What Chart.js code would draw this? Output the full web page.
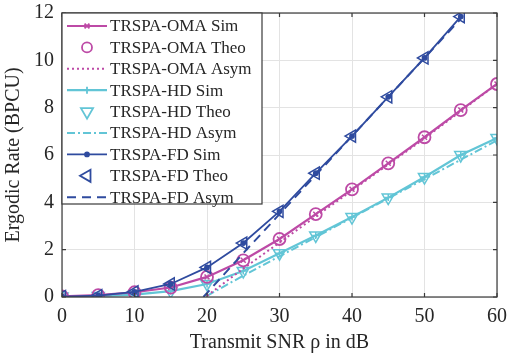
<!DOCTYPE html>
<html>
<head>
<meta charset="utf-8">
<script src="https://cdn.jsdelivr.net/npm/chart.js@4"></script>
<style>
  html, body { margin: 0; padding: 0; background: #fff; }
  #wrap { width: 507px; height: 357px; position: relative; }
</style>
</head>
<body>
<div id="wrap"><canvas id="myChart" width="507" height="357"></canvas></div>
<script>
// x values (transmit SNR in dB)
const snr = [0, 5, 10, 15, 20, 25, 30, 35, 40, 45, 50, 55, 60];
const snrFd = [0, 5, 10, 15, 20, 25, 30, 35, 40, 45, 50, 55];
const snrAsym = [20, 25, 30, 35, 40, 45, 50, 55, 60];
const snrFdAsym = [19.5, 25, 30, 35, 40, 45, 50, 55];

// series values
const omaSim = [0.03, 0.08, 0.2, 0.4, 0.85, 1.55, 2.45, 3.5, 4.55, 5.65, 6.75, 7.9, 9.0];
const omaTheo = [0.03, 0.08, 0.2, 0.4, 0.85, 1.55, 2.45, 3.5, 4.55, 5.65, 6.75, 7.9, 9.0];
const omaAsym = [0.05, 1.2, 2.3, 3.4, 4.5, 5.6, 6.7, 7.85, 9.0];
const hdSim = [0.02, 0.04, 0.1, 0.25, 0.55, 1.1, 1.85, 2.6, 3.38, 4.2, 5.07, 6.0, 6.72];
const hdTheo = [0.02, 0.04, 0.1, 0.25, 0.55, 1.1, 1.85, 2.6, 3.38, 4.2, 5.07, 6.0, 6.72];
const hdAsym = [0.05, 0.9, 1.72, 2.53, 3.35, 4.17, 4.98, 5.8, 6.62];
const fdSim = [0.02, 0.06, 0.22, 0.55, 1.25, 2.28, 3.62, 5.23, 6.8, 8.46, 10.1, 11.85];
const fdTheo = [0.02, 0.06, 0.22, 0.55, 1.25, 2.28, 3.62, 5.23, 6.8, 8.46, 10.1, 11.85];
const fdAsym = [0.0, 1.85, 3.5, 5.15, 6.8, 8.45, 10.1, 11.75];

const xTicks = [0, 10, 20, 30, 40, 50, 60];
const yTicks = [0, 2, 4, 6, 8, 10, 12];

const MAG = '#bd4aa6';
const CYA = '#62c5d6';
const BLU = '#2f4b9f';
const FONT = '"Liberation Serif", "DejaVu Serif", serif';

function pts(xs, ys) {
  return ys.map((y, i) => ({ x: xs[i], y: y }));
}

const datasets = [
  { label: 'TRSPA-FD Theo', data: pts(snrFd, fdTheo), showLine: false, borderColor: BLU,
    pointStyle: 'triangle', rotation: -90, pointRadius: 7, pointBorderWidth: 1.5, pointBackgroundColor: 'rgba(0,0,0,0)' },
  { label: 'TRSPA-FD Sim', data: pts(snrFd, fdSim), borderColor: BLU, backgroundColor: BLU, borderWidth: 1.8,
    pointStyle: 'circle', pointRadius: 2 },
  { label: 'TRSPA-FD Asym', data: pts(snrFdAsym, fdAsym), borderColor: BLU, borderWidth: 2, borderDash: [9, 6], pointRadius: 0 },
  { label: 'TRSPA-OMA Theo', data: pts(snr, omaTheo), showLine: false, borderColor: MAG,
    pointStyle: 'circle', pointRadius: 6, pointBorderWidth: 1.8, pointBackgroundColor: 'rgba(0,0,0,0)' },
  { label: 'TRSPA-OMA Sim', data: pts(snr, omaSim), borderColor: MAG, borderWidth: 2.2,
    pointStyle: 'crossRot', pointRadius: 3.5, pointBorderWidth: 1.5 },
  { label: 'TRSPA-OMA Asym', data: pts(snrAsym, omaAsym), borderColor: MAG, borderWidth: 2, borderDash: [2, 3], pointRadius: 0 },
  { label: 'TRSPA-HD Theo', data: pts(snr, hdTheo), showLine: false, borderColor: CYA,
    pointStyle: 'triangle', rotation: 180, pointRadius: 7, pointBorderWidth: 1.5, pointBackgroundColor: 'rgba(0,0,0,0)' },
  { label: 'TRSPA-HD Sim', data: pts(snr, hdSim), borderColor: CYA, borderWidth: 2.2,
    pointStyle: 'cross', pointRadius: 3.5, pointBorderWidth: 1.5 },
  { label: 'TRSPA-HD Asym', data: pts(snrAsym, hdAsym), borderColor: CYA, borderWidth: 2, borderDash: [8, 3, 2, 3], pointRadius: 0 }
];

// legend rows in the picture's order
const legendRows = [
  { text: 'TRSPA-OMA Sim', color: MAG, line: [], lw: 2.2, style: 'crossRot', r: 3.5 },
  { text: 'TRSPA-OMA Theo', color: MAG, line: null, style: 'circle', r: 5 },
  { text: 'TRSPA-OMA Asym', color: MAG, line: [2, 3], lw: 2 },
  { text: 'TRSPA-HD Sim', color: CYA, line: [], lw: 2.2, style: 'cross', r: 3.5 },
  { text: 'TRSPA-HD Theo', color: CYA, line: null, style: 'triangle', rot: 180, r: 7 },
  { text: 'TRSPA-HD Asym', color: CYA, line: [8, 3, 2, 3], lw: 2 },
  { text: 'TRSPA-FD Sim', color: BLU, line: [], lw: 1.8, style: 'circle', r: 2, fill: true },
  { text: 'TRSPA-FD Theo', color: BLU, line: null, style: 'triangle', rot: -90, r: 7 },
  { text: 'TRSPA-FD Asym', color: BLU, line: [9, 6], lw: 2 }
];

const framePlugin = {
  id: 'frame',
  afterDatasetsDraw(chart) {
    const { ctx, chartArea: a, scales } = chart;
    ctx.save();
    ctx.strokeStyle = '#3a3a3a';
    ctx.lineWidth = 1.2;
    ctx.strokeRect(a.left, a.top, a.right - a.left, a.bottom - a.top);
    // inward ticks
    xTicks.forEach(v => {
      const x = scales.x.getPixelForValue(v);
      ctx.beginPath();
      ctx.moveTo(x, a.bottom); ctx.lineTo(x, a.bottom - 4);
      ctx.moveTo(x, a.top); ctx.lineTo(x, a.top + 4);
      ctx.stroke();
    });
    yTicks.forEach(v => {
      const y = scales.y.getPixelForValue(v);
      ctx.beginPath();
      ctx.moveTo(a.left, y); ctx.lineTo(a.left + 4, y);
      ctx.moveTo(a.right, y); ctx.lineTo(a.right - 4, y);
      ctx.stroke();
    });

    // legend box
    const bx = a.left, by = a.top, bw = 200, bh = 191;
    ctx.fillStyle = '#fff';
    ctx.fillRect(bx, by, bw, bh);
    ctx.strokeStyle = '#3a3a3a';
    ctx.lineWidth = 1.2;
    ctx.strokeRect(bx, by, bw, bh);
    ctx.font = '17px ' + FONT;
    ctx.textBaseline = 'middle';
    legendRows.forEach((r, i) => {
      const y = by + 13 + i * 21.4;
      const x0 = bx + 5, x1 = bx + 45, xm = (x0 + x1) / 2;
      if (r.line) {
        ctx.save();
        ctx.strokeStyle = r.color;
        ctx.lineWidth = r.lw;
        ctx.setLineDash(r.line);
        ctx.beginPath();
        ctx.moveTo(x0, y); ctx.lineTo(x1, y);
        ctx.stroke();
        ctx.restore();
      }
      if (r.style) {
        ctx.save();
        ctx.strokeStyle = r.color;
        ctx.fillStyle = r.fill ? r.color : 'rgba(0,0,0,0)';
        ctx.lineWidth = 1.8;
        Chart.helpers.drawPoint(ctx, { pointStyle: r.style, rotation: r.rot || 0, radius: r.r, borderWidth: 1.8 }, xm, y);
        ctx.restore();
      }
      ctx.fillStyle = '#262626';
      ctx.textAlign = 'left';
      ctx.fillText(r.text, bx + 48, y + 1);
    });
    ctx.restore();
  }
};

const ctx = document.getElementById('myChart').getContext('2d');
const chart = new Chart(ctx, {
  type: 'line',
  data: { datasets: datasets },
  options: {
    responsive: false,
    animation: false,
    layout: { padding: { top: 13, right: 10, left: 0, bottom: 0 } },
    plugins: { legend: { display: false }, tooltip: { enabled: false } },
    elements: { line: { tension: 0 } },
    scales: {
      x: {
        type: 'linear', min: 0, max: 60,
        afterBuildTicks: (s) => { s.ticks = xTicks.map(v => ({ value: v })); },
        afterFit: (s) => { s.height = 60; s.paddingLeft = 0; s.paddingRight = 0; },
        grid: { color: '#e3e3e3', lineWidth: 1, drawTicks: false },
        border: { display: false },
        ticks: { color: '#262626', font: { family: FONT, size: 20 }, padding: 8 },
        title: { display: true, text: 'Transmit SNR ρ in dB', color: '#262626', font: { family: FONT, size: 20 }, padding: { top: 0, bottom: 2 } }
      },
      y: {
        min: 0, max: 12,
        afterBuildTicks: (s) => { s.ticks = yTicks.map(v => ({ value: v })); },
        afterFit: (s) => { s.width = 62; s.paddingTop = 0; s.paddingBottom = 0; },
        grid: { color: '#e3e3e3', lineWidth: 1, drawTicks: false },
        border: { display: false },
        ticks: { color: '#262626', font: { family: FONT, size: 20 }, padding: 8 },
        title: { display: true, text: 'Ergodic Rate (BPCU)', color: '#262626', font: { family: FONT, size: 20 }, padding: { top: 2, bottom: 2 } }
      }
    }
  },
  plugins: [framePlugin]
});
</script>
</body>
</html>
